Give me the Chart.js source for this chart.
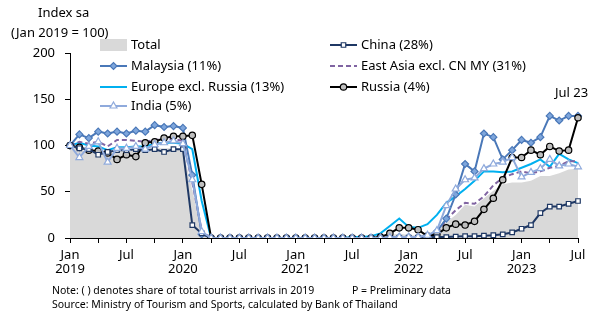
<!DOCTYPE html>
<html>
<head>
<meta charset="utf-8">
<script src="https://cdn.jsdelivr.net/npm/chart.js@4"></script>
<style>
  html, body { margin: 0; padding: 0; background: #fff; }
  #wrap { width: 610px; height: 316px; }
</style>
</head>
<body>
<div id="wrap"><canvas id="myChart" width="610" height="316"></canvas></div>
<script>
const monthNames = ['Jan', 'Feb', 'Mar', 'Apr', 'May', 'Jun', 'Jul', 'Aug', 'Sep', 'Oct', 'Nov', 'Dec'];
const years = [2019, 2020, 2021, 2022, 2023];
const yTicks = [0, 50, 100, 150, 200];

let labels = [];
years.forEach(y => monthNames.forEach(m => labels.push(m + ' ' + y)));
labels = labels.slice(0, 55); // Jan 2019 - Jul 2023

const total = [
  100, 95, 94, 95, 94, 95, 95, 96, 95, 97, 97, 97,
  96, 52, 6, 0, 0, 0, 0, 0, 0, 0, 0, 0,
  0, 0, 0, 0, 0, 0, 0.5, 0.5, 1, 1, 3, 5,
  3, 3, 4, 8, 17, 25, 36, 34, 43, 51, 58, 60,
  60, 62, 67, 67, 70, 74, 75,
];
const china = [
  100, 97, 96, 90, 93, 95, 95, 96, 95, 96, 93, 96,
  96, 14, 5, 0, 0, 0, 0, 0, 0, 0, 0, 0,
  0, 0, 0, 0, 0, 0, 0, 0, 0, 0, 0, 0,
  0.5, 0.5, 1, 1, 1, 1.5, 2, 2, 2.5, 3, 4, 6,
  10, 14, 27, 34, 34, 37, 40,
];
const malaysia = [
  100, 112, 108, 115, 113, 115, 113, 116, 115, 122, 120, 121,
  119, 68, 4, 0, 0, 0, 0, 0, 0, 0, 0, 0,
  0, 0, 0, 0, 0, 0, 0, 0, 0, 0, 0.5, 1,
  1, 1, 2, 7, 21, 47, 80, 72, 113, 109, 85, 95,
  106, 103, 109, 132, 127, 132, 132,
];
const eastAsia = [
  100, 104, 102, 104, 99, 106, 106, 105, 104, 106, 107, 107,
  105, 60, 8, 0, 0, 0, 0, 0, 0, 0, 0, 0,
  0, 0, 0, 0, 0, 0, 0, 0, 0, 0, 0.5, 1,
  1, 1, 2, 5, 20, 30, 38, 37, 45, 57, 65, 69,
  72, 70, 72, 76, 78, 83, 83,
];
const europe = [
  100, 103, 100, 99, 95, 98, 98, 99, 99, 102, 103, 103,
  102, 96, 40, 0, 0, 0, 0, 0, 0, 0, 0, 0,
  0, 0, 0, 0, 0, 0, 1, 1, 2, 5, 13, 21,
  12, 11, 15, 25, 38, 45, 53, 62, 72, 72, 71, 72,
  76, 80, 85, 77, 91, 85, 81,
];
const russia = [
  100, 98, 95, 94, 92, 85, 90, 88, 103, 104, 108, 110,
  110, 111, 58, 0, 0, 0, 0, 0, 0, 0, 0, 0,
  0, 0, 0, 0, 0, 0, 0, 0, 0, 1, 5, 11,
  11, 9, 2, 4, 11, 15, 14, 18, 31, 43, 63, 87,
  87, 95, 90, 99, 94, 95, 130,
];
const india = [
  100, 87, 99, 104, 82, 97, 97, 99, 96, 101, 103, 105,
  102, 63, 7, 0, 0, 0, 0, 0, 0, 0, 0, 0,
  0, 0, 0, 0, 0, 0, 0, 0, 0, 0, 0.5, 1,
  1, 1, 3, 8, 35, 53, 63, 65, 75, 80, 82, 87,
  66, 71, 75, 85, 78, 80, 77,
];

const FONT = 'Noto Sans';

const series = [
  { label: 'Total', data: total, kind: 'area', color: '#d9d9d9' },
  { label: 'China (28%)', data: china, color: '#1f3864', point: 'rect', fill: '#ffffff', r: 3.2 },
  { label: 'Malaysia (11%)', data: malaysia, color: '#4a78b8', point: 'rectRot', fill: '#7ea6dc', r: 3.5 },
  { label: 'East Asia excl. CN MY (31%)', data: eastAsia, color: '#8064a2', dash: [5, 3] },
  { label: 'Europe excl. Russia (13%)', data: europe, color: '#00b0f0' },
  { label: 'Russia (4%)', data: russia, color: '#000000', point: 'circle', fill: '#bfbfbf', r: 3.2 },
  { label: 'India (5%)', data: india, color: '#8faadc', point: 'triangle', fill: '#ffffff', r: 4 },
];

// lower order is drawn on top
const drawOrder = { 'Total': 10, 'Europe excl. Russia (13%)': 6, 'East Asia excl. CN MY (31%)': 5, 'Malaysia (11%)': 4, 'Russia (4%)': 3, 'China (28%)': 2, 'India (5%)': 1 };

const datasets = series.map(s => {
  if (s.kind === 'area') {
    return {
      label: s.label, data: s.data, fill: 'origin', backgroundColor: s.color,
      borderWidth: 0, pointRadius: 0, tension: 0, order: drawOrder[s.label],
    };
  }
  return {
    label: s.label, data: s.data, fill: false,
    borderColor: s.color, borderWidth: 2, borderDash: s.dash || [],
    pointStyle: s.point || false, pointRadius: s.point ? s.r : 0,
    pointBackgroundColor: s.fill, pointBorderColor: s.color, pointBorderWidth: 1.2,
    tension: 0, order: drawOrder[s.label],
  };
});

const textPlugin = {
  id: 'texts',
  afterDraw(chart) {
    const c = chart.ctx;
    c.save();
    c.fillStyle = '#000';
    c.font = '13px "' + FONT + '"';
    c.textBaseline = 'middle';
    c.textAlign = 'left';
    c.fillText('Index sa', 38, 13);
    c.fillText('(Jan 2019 = 100)', 11, 33);
    c.fillText('Jul 23', 555, 93);

    // legend, two columns
    const cols = [100, 330];
    const rows = [45, 66, 87, 106];
    series.forEach((s, i) => {
      const x = cols[i % 2];
      const y = rows[Math.floor(i / 2)];
      if (s.kind === 'area') {
        c.fillStyle = s.color;
        c.fillRect(x, y - 6, 27, 12);
      } else {
        c.strokeStyle = s.color;
        c.lineWidth = 2;
        c.setLineDash(s.dash || []);
        c.beginPath();
        c.moveTo(x, y);
        c.lineTo(x + 27, y);
        c.stroke();
        c.setLineDash([]);
        if (s.point) {
          c.fillStyle = s.fill;
          c.lineWidth = 1.2;
          Chart.helpers.drawPoint(c, { pointStyle: s.point, radius: s.r, borderWidth: 1.2 }, x + 13.5, y);
        }
      }
      c.fillStyle = '#000';
      c.fillText(s.label, x + 31, y);
    });

    c.font = '10.5px "' + FONT + '"';
    c.fillText('Note: ( ) denotes share of total tourist arrivals in 2019', 52, 291);
    c.fillText('P = Preliminary data', 352, 291);
    c.fillText('Source: Ministry of Tourism and Sports, calculated by Bank of Thailand', 52, 305);
    c.restore();
  },
};

let ctx = document.getElementById('myChart').getContext('2d');
let myChart = new Chart(ctx, {
  type: 'line',
  data: { labels: labels, datasets: datasets },
  options: {
    responsive: false,
    animation: false,
    layout: { padding: { left: 0, right: 32, top: 53, bottom: 0 } },
    scales: {
      x: {
        afterFit: s => { s.height = 78; },
        grid: {
          drawOnChartArea: false,
          tickLength: 5,
          tickColor: c => (c.index % 3 === 0 ? '#000' : 'rgba(0,0,0,0)'),
        },
        border: { color: '#000', width: 1 },
        ticks: {
          autoSkip: false,
          maxRotation: 0,
          padding: 5,
          color: '#000',
          font: { size: 13, family: FONT, lineHeight: 1.1 },
          callback: function (v, i) {
            const m = i % 12;
            if (m === 0) return [monthNames[0], String(years[Math.floor(i / 12)])];
            if (m === 6) return monthNames[6];
            return '';
          },
        },
      },
      y: {
        min: yTicks[0],
        max: yTicks[yTicks.length - 1],
        afterFit: s => { s.width = 70; },
        afterBuildTicks: s => { s.ticks = yTicks.map(v => ({ value: v })); },
        grid: { drawOnChartArea: false, tickLength: 5, tickColor: '#000' },
        border: { color: '#000', width: 1 },
        ticks: { padding: 10, color: '#000', font: { size: 13, family: FONT } },
      },
    },
    plugins: {
      legend: { display: false },
      tooltip: { enabled: false },
    },
  },
  plugins: [textPlugin],
});
</script>
</body>
</html>
